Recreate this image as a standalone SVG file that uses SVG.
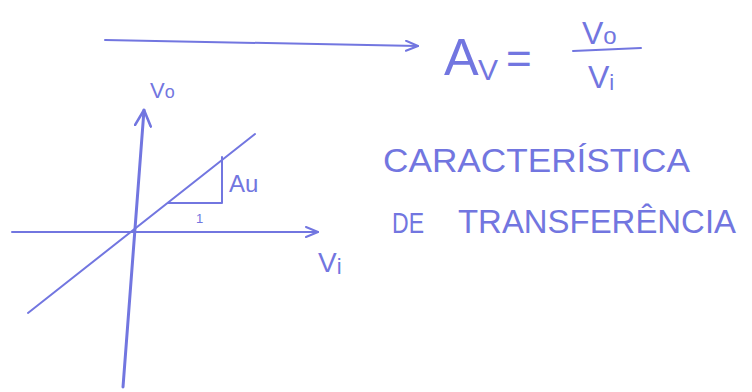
<svg xmlns="http://www.w3.org/2000/svg" width="752" height="392" viewBox="0 0 752 392">
<defs>
<style>
.ink{fill:none;stroke:#7276e0;stroke-width:2;stroke-linecap:round;stroke-linejoin:round}
.thick{stroke-width:3}
.t{fill:#7276e0;font-family:"Liberation Sans",Arial,sans-serif;font-weight:normal}
</style>
<marker id="chev" viewBox="0 0 14 12" refX="13" refY="6" markerWidth="14" markerHeight="12" markerUnits="userSpaceOnUse" orient="auto">
<path d="M1,1 L13,6 L1,11" fill="none" stroke="#7276e0" stroke-width="2" stroke-linecap="round" stroke-linejoin="round"/>
</marker>
<marker id="chevB" viewBox="0 0 18 18" refX="17" refY="9" markerWidth="18" markerHeight="18" markerUnits="userSpaceOnUse" orient="auto">
<path d="M1,1 L17,9 L1,17" fill="none" stroke="#7276e0" stroke-width="2.6" stroke-linecap="round" stroke-linejoin="round"/>
</marker>
</defs>
<rect width="752" height="392" fill="#ffffff"/>

<g id="connectors">
<path class="ink" d="M105,40 L418,46" marker-end="url(#chev)"/>
</g>

<g id="formula">
<text class="t" x="444" y="75" font-size="52">A</text>
<text class="t" x="478" y="80" font-size="30">V</text>
<text class="t" x="506" y="74" font-size="44">=</text>
<path class="ink" d="M573,51 L641,48"/>
<text class="t" x="582" y="44" font-size="32">V<tspan font-size="24">o</tspan></text>
<text class="t" x="588" y="88" font-size="32">V<tspan font-size="22" dy="2">i</tspan></text>
</g>

<g id="graph">
<path class="ink thick" d="M123,387 L144,110" marker-end="url(#chevB)"/>
<path class="ink" d="M12,232 L318,232" marker-end="url(#chev)"/>
<path class="ink" d="M28,313 L255,134"/>
<path class="ink" d="M222,157 L222,203 L168,203"/>
<text class="t" x="229" y="192" font-size="24">Au</text>
<text class="t" x="196" y="223" font-size="13">1</text>
<text class="t" x="150" y="98" font-size="22">V<tspan font-size="18">o</tspan></text>
<text class="t" x="318" y="272" font-size="28">V<tspan font-size="22" dy="2">i</tspan></text>
</g>

<g id="caption">
<text class="t" x="383" y="172" font-size="34" textLength="307" lengthAdjust="spacingAndGlyphs">CARACTERÍSTICA</text>
<text class="t" x="392" y="233" font-size="30" textLength="32" lengthAdjust="spacingAndGlyphs">DE</text>
<text class="t" x="458" y="233" font-size="33" textLength="278" lengthAdjust="spacingAndGlyphs">TRANSFERÊNCIA</text>
</g>
</svg>
